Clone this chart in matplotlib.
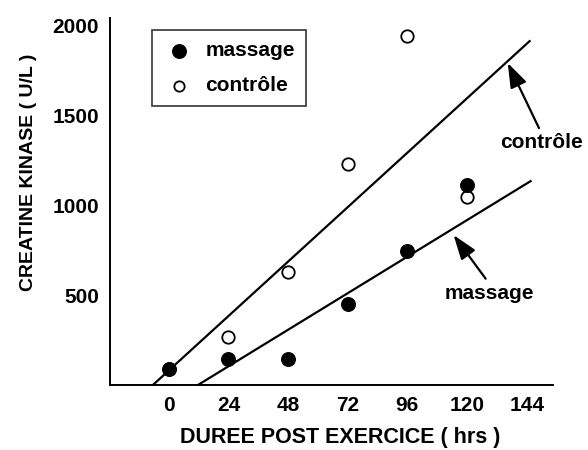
import matplotlib.pyplot as plt
import numpy as np

plt.rcParams["font.family"] = ["Liberation Sans", "DejaVu Sans"]
plt.rcParams["font.weight"] = "bold"

# hours after exercise
hours = [0, 24, 48, 72, 96, 120]
# creatine kinase (U/L)
ck_massage = [89, 144, 144, 450, 744, 1111]
ck_controle = [89, 267, 628, 1228, 1939, 1044]

# regression lines: slope, intercept, x range
fit_massage = (8.46, -99.0)
fit_controle = (12.6, 81.0)
range_massage = (11.7, 145.6)
range_controle = (-6.4, 145.2)

x_ticks = [0, 24, 48, 72, 96, 120, 144]
y_ticks = [500, 1000, 1500, 2000]


def main() -> None:
    fig = plt.figure(figsize=(5.88, 4.5), dpi=100)
    ax = fig.add_axes([0.187, 0.1444, 0.753, 0.816])

    for (slope, icpt), (x0, x1) in ((fit_controle, range_controle), (fit_massage, range_massage)):
        xs = np.array([x0, x1])
        ax.plot(xs, slope * xs + icpt, color="black", lw=1.6, zorder=2)

    ax.scatter(hours, ck_controle, s=80, facecolors="white", edgecolors="black",
               linewidths=1.3, zorder=3)
    ax.scatter(hours, ck_massage, s=95, color="black", zorder=4)

    # legend handles
    h_m = ax.scatter([], [], s=95, color="black", label="massage")
    h_c = ax.scatter([], [], s=55, facecolors="white", edgecolors="black",
                     linewidths=1.3, label="contrôle")
    leg = ax.legend(handles=[h_m, h_c], loc="upper left", bbox_to_anchor=(0.095, 0.967),
                    fontsize=15, frameon=True, fancybox=False, edgecolor="black",
                    handlelength=1.5, handletextpad=0.5, labelspacing=0.75,
                    borderpad=0.55, borderaxespad=0.0)
    leg.get_frame().set_linewidth(1.2)

    arrow = dict(arrowstyle="-|>,head_length=1.0,head_width=0.35", color="black",
                 lw=1.6, relpos=(0.5, 1.0), shrinkA=2, shrinkB=0)
    ax.annotate("contrôle", xy=(136.4, 1789), xytext=(150, 1345), ha="center", va="center",
                fontsize=15, fontweight="bold", arrowprops=arrow, annotation_clip=False)
    ax.annotate("massage", xy=(114.6, 833), xytext=(129, 510), ha="center", va="center",
                fontsize=15, fontweight="bold", arrowprops=arrow, annotation_clip=False)

    ax.set_xlim(-23.7, 154.5)
    ax.set_ylim(0, 2040)
    ax.set_xticks(x_ticks)
    ax.set_yticks(y_ticks)
    ax.tick_params(axis="both", length=0, labelsize=15, pad=8)
    for lab in ax.get_xticklabels() + ax.get_yticklabels():
        lab.set_fontweight("bold")

    for side in ("top", "right"):
        ax.spines[side].set_visible(False)
    for side in ("left", "bottom"):
        ax.spines[side].set_linewidth(1.4)

    ax.set_xlabel("DUREE POST EXERCICE ( hrs )", fontsize=15.5, fontweight="bold", va="center")
    ax.xaxis.set_label_coords(0.52, -0.142)
    ax.set_ylabel("CREATINE KINASE ( U/L )", fontsize=14, fontweight="bold", va="center")
    ax.yaxis.set_label_coords(-0.185, 0.58)

    fig.savefig("out.png", dpi=100)


if __name__ == "__main__":
    main()
